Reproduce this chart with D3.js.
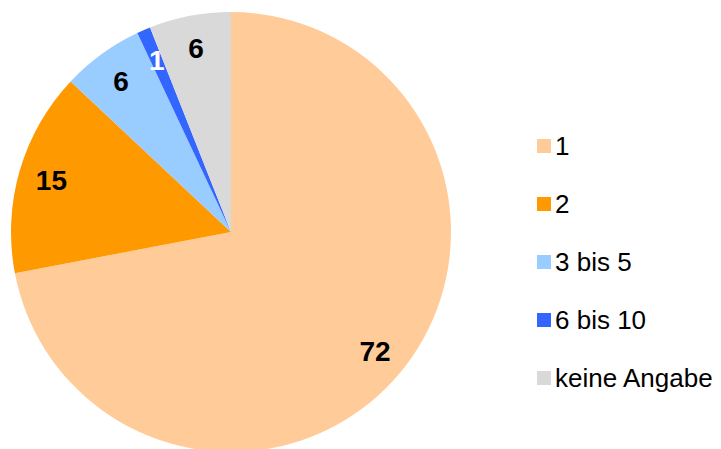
<!DOCTYPE html>
<html>
<head>
<meta charset="utf-8">
<script src="https://cdn.jsdelivr.net/npm/d3@7"></script>
<style>
  body { margin: 0; background: #fff; }
  text { font-family: "Liberation Sans", Arial, sans-serif; }
</style>
</head>
<body>
<div id="chart"></div>
<script>
// data
let categories = ["1", "2", "3 bis 5", "6 bis 10", "keine Angabe"];
let values = [72, 15, 6, 1, 6];
let colors = ["#FFCC99", "#FF9900", "#99CCFF", "#3366FF", "#D9D9D9"];
let labelColors = ["#000", "#000", "#000", "#fff", "#000"];

let width = 721, height = 449;
let cx = 231, cy = 232, radius = 220;

let svg = d3.select("#chart").append("svg")
    .attr("width", width)
    .attr("height", height);

let pie = d3.pie().sort(null).value(d => d);
let arcs = pie(values);

let arc = d3.arc().innerRadius(0).outerRadius(radius);
let labelArc = d3.arc().innerRadius(187).outerRadius(187);

let g = svg.append("g").attr("transform", `translate(${cx},${cy})`);

g.selectAll("path")
    .data(arcs)
    .enter()
    .append("path")
    .attr("d", arc)
    .attr("fill", (d, i) => colors[i]);

g.selectAll("text")
    .data(arcs)
    .enter()
    .append("text")
    .attr("transform", d => `translate(${labelArc.centroid(d)})`)
    .attr("text-anchor", "middle")
    .attr("dy", "0.36em")
    .attr("font-size", "28px")
    .attr("font-weight", "bold")
    .attr("fill", (d, i) => labelColors[i])
    .text(d => d.data);

// legend
let legend = svg.append("g").attr("transform", "translate(537,146)");
let rows = legend.selectAll("g")
    .data(categories)
    .enter()
    .append("g")
    .attr("transform", (d, i) => `translate(0,${i * 58})`);

rows.append("rect")
    .attr("x", 0)
    .attr("y", -7)
    .attr("width", 14)
    .attr("height", 14)
    .attr("fill", (d, i) => colors[i]);

rows.append("text")
    .attr("x", 18)
    .attr("dy", "0.36em")
    .attr("font-size", "26px")
    .attr("fill", "#000")
    .text(d => d);
</script>
</body>
</html>
